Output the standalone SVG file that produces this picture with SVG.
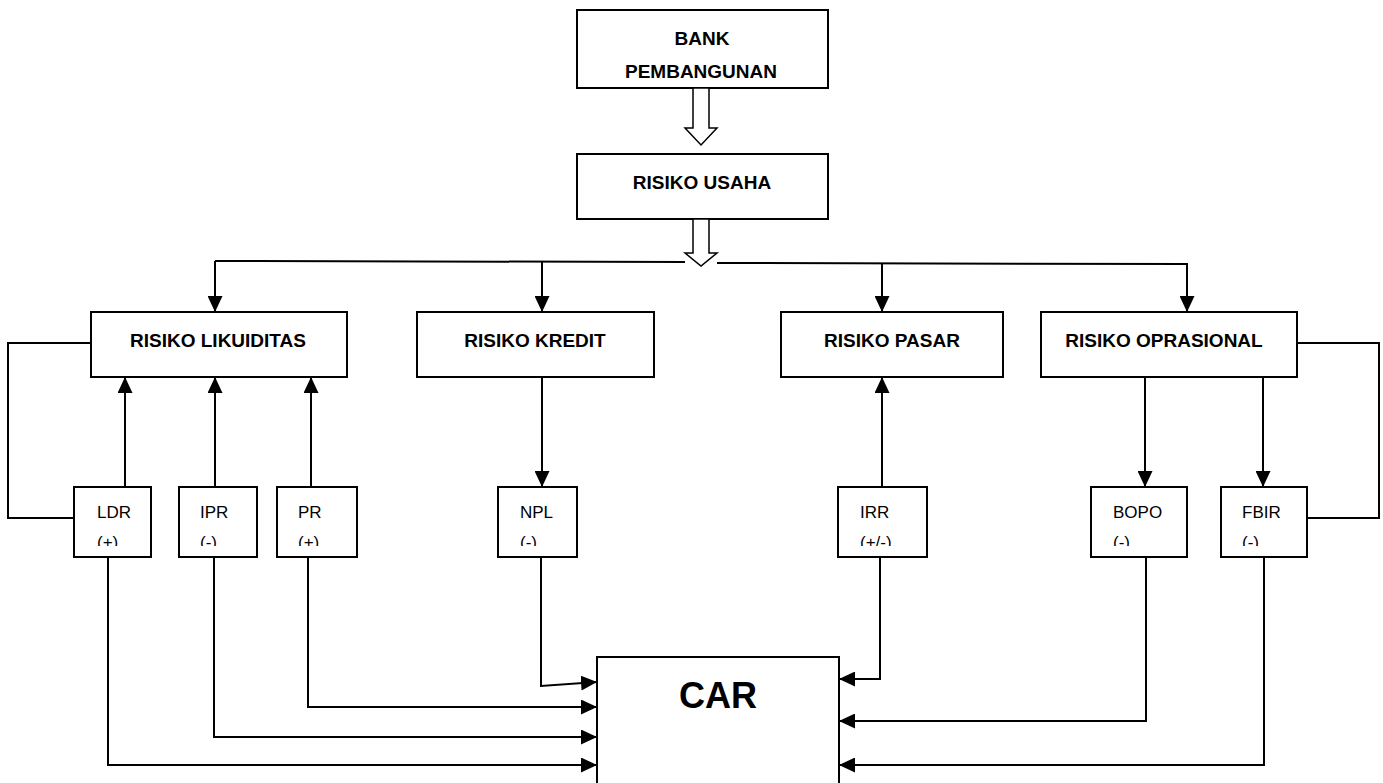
<svg xmlns="http://www.w3.org/2000/svg" width="1383" height="783" viewBox="0 0 1383 783">
<style>
.box{fill:#fff;stroke:#000;stroke-width:2}
.ln{fill:none;stroke:#000;stroke-width:2}
.hollow{fill:#fff;stroke:#000;stroke-width:1.5;stroke-linejoin:miter}
.tb{font-family:"Liberation Sans",Arial,sans-serif;font-weight:bold;font-size:19px;text-anchor:middle;fill:#000}
.ts{font-family:"Liberation Sans",Arial,sans-serif;font-size:17px;fill:#000}
.car{font-family:"Liberation Sans",Arial,sans-serif;font-weight:bold;font-size:36px;text-anchor:middle;fill:#000}
</style>
<defs>
<marker id="ah" markerUnits="userSpaceOnUse" markerWidth="16" markerHeight="15" refX="16" refY="7.5" orient="auto">
<path d="M0,0 L16,7.5 L0,15 z" fill="#000"/>
</marker>
<clipPath id="clipSmall" clipPathUnits="userSpaceOnUse"><rect x="0" y="480" width="1383" height="66"/></clipPath>
</defs>
<rect width="1383" height="783" fill="#fff"/>

<g id="bank">
<rect class="box" x="577" y="10" width="251" height="78"/>
<text class="tb" x="702" y="45">BANK</text>
<text class="tb" x="701" y="78">PEMBANGUNAN</text>
</g>
<g id="usaha">
<rect class="box" x="577" y="154" width="251" height="65"/>
<text class="tb" x="702" y="189">RISIKO USAHA</text>
</g>
<g id="likuiditas">
<rect class="box" x="91" y="312" width="256" height="65"/>
<text class="tb" x="218" y="347">RISIKO LIKUIDITAS</text>
</g>
<g id="kredit">
<rect class="box" x="417" y="312" width="237" height="65"/>
<text class="tb" x="535" y="347">RISIKO KREDIT</text>
</g>
<g id="pasar">
<rect class="box" x="781" y="312" width="222" height="65"/>
<text class="tb" x="892" y="347">RISIKO PASAR</text>
</g>
<g id="oprasional">
<rect class="box" x="1041" y="312" width="256" height="65"/>
<text class="tb" x="1164" y="347">RISIKO OPRASIONAL</text>
</g>

<g id="ldr">
<rect class="box" x="74" y="487" width="77" height="70"/>
<g clip-path="url(#clipSmall)"><text class="ts" x="97" y="518">LDR</text><text class="ts" x="97" y="548">(+)</text></g>
</g>
<g id="ipr">
<rect class="box" x="179" y="487" width="78" height="70"/>
<g clip-path="url(#clipSmall)"><text class="ts" x="200" y="518">IPR</text><text class="ts" x="200" y="548">(-)</text></g>
</g>
<g id="pr">
<rect class="box" x="277" y="487" width="80" height="70"/>
<g clip-path="url(#clipSmall)"><text class="ts" x="298" y="518">PR</text><text class="ts" x="298" y="548">(+)</text></g>
</g>
<g id="npl">
<rect class="box" x="498" y="487" width="79" height="70"/>
<g clip-path="url(#clipSmall)"><text class="ts" x="520" y="518">NPL</text><text class="ts" x="520" y="548">(-)</text></g>
</g>
<g id="irr">
<rect class="box" x="838" y="487" width="89" height="70"/>
<g clip-path="url(#clipSmall)"><text class="ts" x="860" y="518">IRR</text><text class="ts" x="860" y="548">(+/-)</text></g>
</g>
<g id="bopo">
<rect class="box" x="1091" y="487" width="96" height="70"/>
<g clip-path="url(#clipSmall)"><text class="ts" x="1113" y="518">BOPO</text><text class="ts" x="1113" y="548">(-)</text></g>
</g>
<g id="fbir">
<rect class="box" x="1221" y="487" width="86" height="70"/>
<g clip-path="url(#clipSmall)"><text class="ts" x="1242" y="518">FBIR</text><text class="ts" x="1242" y="548">(-)</text></g>
</g>

<g id="car">
<rect class="box" x="597" y="657" width="242" height="140"/>
<text class="car" x="718" y="708">CAR</text>
</g>

<g id="connectors">
<polygon class="hollow" points="693,88 709,88 709,128 717,128 701,145 685,128 693,128"/>
<polygon class="hollow" points="693,219 709,219 709,253 717,253 701,266 685,253 693,253"/>
<path class="ln" d="M215,261 L685,262"/>
<path class="ln" d="M717,263 L1187,264"/>
<path class="ln" d="M215,261 V312" marker-end="url(#ah)"/>
<path class="ln" d="M542,261 V312" marker-end="url(#ah)"/>
<path class="ln" d="M882,263 V312" marker-end="url(#ah)"/>
<path class="ln" d="M1187,263 V312" marker-end="url(#ah)"/>
<path class="ln" d="M125,487 V377" marker-end="url(#ah)"/>
<path class="ln" d="M215,487 V377" marker-end="url(#ah)"/>
<path class="ln" d="M311,487 V377" marker-end="url(#ah)"/>
<path class="ln" d="M542,377 V487" marker-end="url(#ah)"/>
<path class="ln" d="M882,487 V377" marker-end="url(#ah)"/>
<path class="ln" d="M1145,377 V487" marker-end="url(#ah)"/>
<path class="ln" d="M1263,377 V487" marker-end="url(#ah)"/>
<path class="ln" d="M91,343 H8 V518 H74"/>
<path class="ln" d="M1297,343 H1379 V518 H1307"/>
<path class="ln" d="M108,557 V765 H597" marker-end="url(#ah)"/>
<path class="ln" d="M214,557 V737 H597" marker-end="url(#ah)"/>
<path class="ln" d="M308,557 V707 H597" marker-end="url(#ah)"/>
<path class="ln" d="M541,557 V686 L597,682" marker-end="url(#ah)"/>
<path class="ln" d="M880,557 V679 H839" marker-end="url(#ah)"/>
<path class="ln" d="M1146,557 V721 H839" marker-end="url(#ah)"/>
<path class="ln" d="M1264,557 V765 H839" marker-end="url(#ah)"/>
</g>
</svg>
